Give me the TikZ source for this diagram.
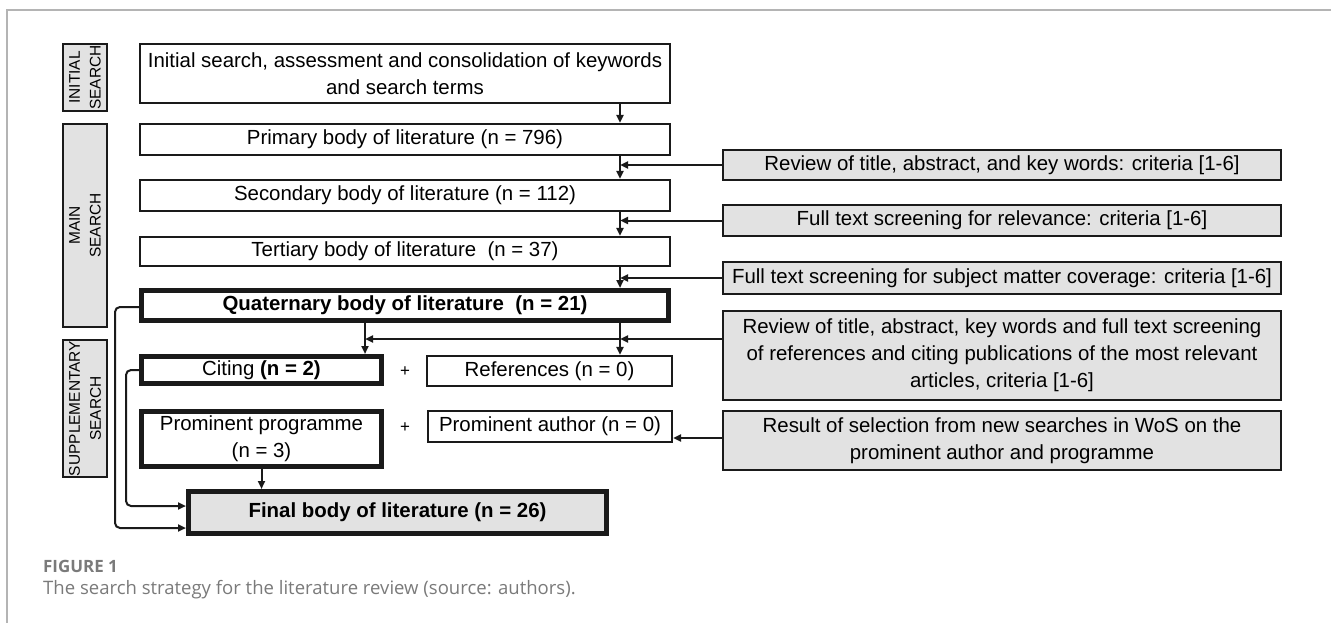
\documentclass[tikz,border=0pt]{standalone}
\usepackage{fontspec}
\setmainfont{Liberation Sans}
\newfontfamily\capfont{Open Sans}
\usetikzlibrary{arrows.meta}
\definecolor{boxgray}{HTML}{E2E2E2}
\definecolor{framegray}{HTML}{B4B4B4}
\definecolor{capgray}{HTML}{7A7A7A}
\definecolor{ink}{HTML}{1A1A1A}
\begin{document}
\begin{tikzpicture}[x=1bp,y=-1bp,
  box/.style={draw=ink,line width=2.2bp,rectangle,inner sep=0pt,align=center,
    font=\fontsize{20.5}{27}\selectfont},
  boldbox/.style={box,line width=5bp},
  notebox/.style={box,fill=boxgray,font=\fontsize{20.5}{27}\selectfont},
  phase/.style={draw=ink,line width=2bp,fill=boxgray,inner sep=0pt,
    minimum width=44bp,align=center},
  phasetext/.style={rotate=90,align=center,font=\fontsize{15.5}{21}\selectfont},
  arr/.style={draw=ink,line width=2bp,-{Triangle[length=8bp,width=7bp]}},
  loop/.style={arr,rounded corners=5bp}]
\useasboundingbox (0,0) rectangle (1331,623);
% page frame
\draw[framegray,line width=2bp] (7,623) -- (7,10) -- (1331,10);

% phase labels
\node[phase,minimum height=67bp] (ph1) at (85,77.5) {};
\node[phasetext] (ph1t) at (ph1) {INITIAL\\SEARCH};
\node[phase,minimum height=203bp] (ph2) at (85,225.5) {};
\node[phasetext] (ph2t) at (ph2) {MAIN\\SEARCH};
\node[phase,minimum height=137bp] (ph3) at (85,408.5) {};
\node[phasetext] (ph3t) at (ph3) {SUPPLEMENTARY\\SEARCH};

% main column
\node[box,minimum width=530bp,minimum height=59bp] (init) at (405,73.5)
  {Initial search, assessment and consolidation of keywords\\and search terms};
\node[box,minimum width=530bp,minimum height=31bp] (prim) at (405,139.5)
  {Primary body of literature (n = 796)};
\node[box,minimum width=530bp,minimum height=31bp] (sec) at (405,195.5)
  {Secondary body of literature (n = 112)};
\node[box,minimum width=530bp,minimum height=29bp] (ter) at (405,251.5)
  {Tertiary body of literature\ \ (n = 37)};
\node[boldbox,minimum width=527bp,minimum height=30bp] (quat) at (405,305.5)
  {\bfseries Quaternary body of literature\ \ (n = 21)};

% supplementary results
\node[boldbox,minimum width=240bp,minimum height=27bp] (cit) at (261.5,370)
  {Citing \textbf{(n = 2)}};
\node (p1) at (405,372) {\fontsize{17}{17}\selectfont +};
\node[box,minimum width=245bp,minimum height=30bp] (refs) at (549.5,371)
  {References (n = 0)};
\node[boldbox,minimum width=240bp,minimum height=55bp] (prog) at (261.5,439)
  {Prominent programme\\(n = 3)};
\node (p2) at (405,428) {\fontsize{17}{17}\selectfont +};
\node[box,minimum width=244bp,minimum height=31bp] (auth) at (550,426.5)
  {Prominent author (n = 0)};
\node[boldbox,fill=boxgray,minimum width=418bp,minimum height=42bp] (fin) at (397.5,512.5)
  {\bfseries Final body of literature (n = 26)};

% screening notes
\node[notebox,minimum width=558bp,minimum height=30bp] (r1) at (1002,165)
  {Review of title, abstract, and key words: criteria [1-6]};
\node[notebox,minimum width=558bp,minimum height=31bp] (r2) at (1002,220.5)
  {Full text screening for relevance: criteria [1-6]};
\node[notebox,minimum width=558bp,minimum height=32bp] (r3) at (1002,278)
  {Full text screening for subject matter coverage: criteria [1-6]};
\node[notebox,minimum width=558bp,minimum height=89bp] (r4) at (1002,355.5)
  {Review of title, abstract, key words and full text screening\\of references and citing publications of the most relevant\\articles, criteria [1-6]};
\node[notebox,minimum width=558bp,minimum height=59bp] (r5) at (1002,440.5)
  {Result of selection from new searches in WoS on the\\prominent author and programme};

% junction points
\coordinate (mx) at (620,0);
\coordinate (cx) at (365,0);
\coordinate (ref4) at (0,339);
\coordinate (ref5) at (0,438);
\coordinate (lq) at (115,307);
\coordinate (lc) at (126,370);
\coordinate (fq) at (0,528);
\coordinate (fc) at (0,506);

% main flow
\draw[arr] (init.south -| mx) -- (prim.north -| mx);
\draw[arr] (prim.south -| mx) -- (sec.north -| mx);
\draw[arr] (sec.south -| mx) -- (ter.north -| mx);
\draw[arr] (ter.south -| mx) -- (quat.north -| mx);
\draw[arr] (r1.west) -- (r1.west -| mx);
\draw[arr] (r2.west) -- (r2.west -| mx);
\draw[arr] (r3.west) -- (r3.west -| mx);

% supplementary flow
\draw[arr] (quat.south -| cx) -- (cit.north -| cx);
\draw[arr] (quat.south -| mx) -- (refs.north -| mx);
\draw[arr] (r4.west |- ref4) -- (mx |- ref4);
\draw[arr] (mx |- ref4) -- (cx |- ref4);
\draw[arr] (r5.west |- ref5) -- (auth.east |- ref5);
\draw[arr] (prog.south) -- (fin.north -| prog.south);
\draw[loop] (quat.west |- lq) -- (lq) -- (lq |- fq) -- (fin.west |- fq);
\draw[loop] (cit.west |- lc) -- (lc) -- (lc |- fc) -- (fin.west |- fc);

% caption
\node[anchor=base west,inner sep=0pt,text=capgray,font=\capfont\fontsize{17}{18}\selectfont\bfseries] (cap1) at (43,572) {FIGURE 1};
\node[anchor=base west,inner sep=0pt,text=capgray,font=\capfont\fontsize{18.6}{19}\selectfont] (cap2) at (43,594) {The search strategy for the literature review (source: authors).};
\end{tikzpicture}
\end{document}
